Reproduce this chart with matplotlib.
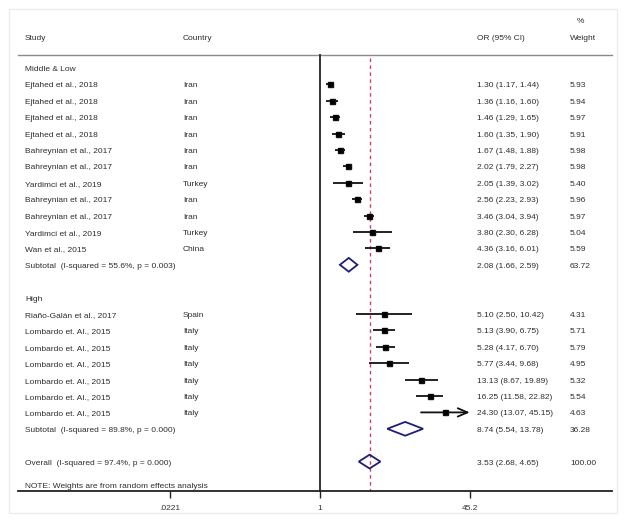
import matplotlib
matplotlib.use("Agg")
import matplotlib.pyplot as plt
import matplotlib.transforms as mtransforms
from matplotlib.patches import Polygon, Rectangle
import numpy as np

# ---------------- data ----------------
group_names = ["Middle & Low", "High"]

studies_ml = ["Ejtahed et al., 2018", "Ejtahed et al., 2018", "Ejtahed et al., 2018",
              "Ejtahed et al., 2018", "Bahreynian et al., 2017", "Bahreynian et al., 2017",
              "Yardimci et al., 2019", "Bahreynian et al., 2017", "Bahreynian et al., 2017",
              "Yardimci et al., 2019", "Wan et al., 2015"]
countries_ml = ["Iran", "Iran", "Iran", "Iran", "Iran", "Iran", "Turkey", "Iran", "Iran",
                "Turkey", "China"]
or_ml = [1.30, 1.36, 1.46, 1.60, 1.67, 2.02, 2.05, 2.56, 3.46, 3.80, 4.36]
lo_ml = [1.17, 1.16, 1.29, 1.35, 1.48, 1.79, 1.39, 2.23, 3.04, 2.30, 3.16]
hi_ml = [1.44, 1.60, 1.65, 1.90, 1.88, 2.27, 3.02, 2.93, 3.94, 6.28, 6.01]
w_ml = [5.93, 5.94, 5.97, 5.91, 5.98, 5.98, 5.40, 5.96, 5.97, 5.04, 5.59]

studies_hi = ["Riaño-Galán et al., 2017", "Lombardo et. Al., 2015", "Lombardo et. Al., 2015",
              "Lombardo et. Al., 2015", "Lombardo et. Al., 2015", "Lombardo et. Al., 2015",
              "Lombardo et. Al., 2015"]
countries_hi = ["Spain", "Italy", "Italy", "Italy", "Italy", "Italy", "Italy"]
or_hi = [5.10, 5.13, 5.28, 5.77, 13.13, 16.25, 24.30]
lo_hi = [2.50, 3.90, 4.17, 3.44, 8.67, 11.58, 13.07]
hi_hi = [10.42, 6.75, 6.70, 9.68, 19.89, 22.82, 45.15]
w_hi = [4.31, 5.71, 5.79, 4.95, 5.32, 5.54, 4.63]

sub_labels = ["Subtotal  (I-squared = 55.6%, p = 0.003)",
              "Subtotal  (I-squared = 89.8%, p = 0.000)"]
sub_or = [2.08, 8.74]
sub_lo = [1.66, 5.54]
sub_hi = [2.59, 13.78]
sub_w = [63.72, 36.28]

overall_label = "Overall  (I-squared = 97.4%, p = 0.000)"
overall_or = 3.53
overall_lo = 2.68
overall_hi = 4.65
overall_w = 100.00

note_text = "NOTE: Weights are from random effects analysis"
xtick_vals = [0.0221, 1, 45.2]
xtick_labels = [".0221", "1", "45.2"]

# ---------------- layout ----------------
W, H = 626, 522
fig = plt.figure(figsize=(W / 100, H / 100), dpi=100)
fig.patch.set_facecolor("white")

px_left, px_right = 18, 612
px_bottom = 491
row0_px, row_h = 68, 16.4
k = 39.3          # pixels per ln unit
null_px = 320

ax = fig.add_axes([px_left / W, (H - px_bottom) / H, (px_right - px_left) / W, px_bottom / H])
ax.set_xscale("log")
ax.set_xlim(np.exp((px_left - null_px) / k), np.exp((px_right - null_px) / k))
r_top = (0 - row0_px) / row_h
r_bot = (px_bottom - row0_px) / row_h
ax.set_ylim(r_bot, r_top)
for s in ["top", "left", "right"]:
    ax.spines[s].set_visible(False)
ax.spines["bottom"].set_linewidth(1.3)
ax.spines["bottom"].set_color("#222222")
ax.set_yticks([])
ax.set_xticks(xtick_vals)
ax.set_xticklabels(xtick_labels)
ax.xaxis.set_minor_locator(matplotlib.ticker.NullLocator())
ax.tick_params(axis="x", length=5, width=1.0, colors="#222222", labelsize=6, pad=5,
               labelcolor="#333333")

# outer faint frame
fig.patches.append(Rectangle((9 / W, 9 / H), (W - 18) / W, (H - 18) / H,
                             transform=fig.transFigure, fill=False,
                             edgecolor="#ececec", lw=1.0))

tr = mtransforms.blended_transform_factory(ax.transAxes, ax.transData)


def fx(px):
    return (px - px_left) / (px_right - px_left)


FS = 6
TXT = "#2e2e2e"
FONT = "Liberation Sans"
BASE_OFF = 0.18   # baseline sits slightly below the row centre


def txt(px, r, s, **kw):
    ax.text(fx(px), r + BASE_OFF, s, transform=tr, fontsize=FS, color=TXT, family=FONT,
            va="baseline", ha="left", clip_on=False, **kw)


col_study, col_country, col_or, col_w = 25, 183, 477, 570

# header
hdr_r = (37 - row0_px) / row_h
txt(col_study, hdr_r, "Study")
txt(col_country, hdr_r, "Country")
txt(col_or, hdr_r, "OR (95% CI)")
txt(col_w, hdr_r, "Weight")
txt(577, (20 - row0_px) / row_h, "%")
line_r = (55 - row0_px) / row_h
ax.plot([0, 1], [line_r, line_r], transform=tr, color="#8a8a8a", lw=1.0, clip_on=False)

# null line and overall line
ax.plot([1, 1], [line_r, r_bot], color="#333333", lw=1.4, clip_on=False, zorder=2)
ax.plot([overall_or, overall_or], [line_r + 0.2, r_bot], color="#d0405e", lw=1.0,
        dashes=(2.5, 2.5), clip_on=False, zorder=2)


def fmt_ci(o, l, h):
    return f"{o:.2f} ({l:.2f}, {h:.2f})"


def study_row(r, name, country, o, l, h, w, arrow=False):
    txt(col_study, r, name)
    txt(col_country, r, country)
    txt(col_or, r, fmt_ci(o, l, h))
    txt(col_w, r, f"{w:.2f}")
    if arrow:
        ax.annotate("", xy=(h, r), xytext=(l, r),
                    arrowprops=dict(arrowstyle="->,head_length=0.7,head_width=0.3",
                                    lw=1.3, color="#111111", shrinkA=0, shrinkB=0),
                    zorder=4)
    else:
        ax.plot([l, h], [r, r], color="#111111", lw=1.3, zorder=4, solid_capstyle="butt")
    ax.plot([o], [r], marker="s", ms=3.6, color="#111111", zorder=5, lw=0)
    ax.plot([o], [r], marker="o", ms=2.6, color="black", zorder=6, lw=0)


def diamond(r, o, l, h):
    poly = Polygon([[l, r], [o, r - 0.42], [h, r], [o, r + 0.42]], closed=True,
                   facecolor="none", edgecolor="#1e1e78", lw=1.3, zorder=5)
    ax.add_patch(poly)


groups = [
    (studies_ml, countries_ml, or_ml, lo_ml, hi_ml, w_ml),
    (studies_hi, countries_hi, or_hi, lo_hi, hi_hi, w_hi),
]

r = 0
for gi, (names, ctry, ors, los, his, ws) in enumerate(groups):
    txt(col_study, r, group_names[gi])
    r += 1
    for i in range(len(names)):
        arrow = his[i] >= xtick_vals[-1] * 0.99
        study_row(r, names[i], ctry[i], ors[i], los[i], his[i], ws[i], arrow=arrow)
        r += 1
    txt(col_study, r, sub_labels[gi])
    txt(col_or, r, fmt_ci(sub_or[gi], sub_lo[gi], sub_hi[gi]))
    txt(col_w, r, f"{sub_w[gi]:.2f}")
    diamond(r, sub_or[gi], sub_lo[gi], sub_hi[gi])
    r += 2

txt(col_study, r, overall_label)
txt(col_or, r, fmt_ci(overall_or, overall_lo, overall_hi))
txt(col_w, r, f"{overall_w:.2f}")
diamond(r, overall_or, overall_lo, overall_hi)

txt(col_study, (485 - row0_px) / row_h, note_text)

for lab in ax.get_xticklabels():
    lab.set_family(FONT)

fig.savefig("out.png", dpi=100, facecolor="white")
